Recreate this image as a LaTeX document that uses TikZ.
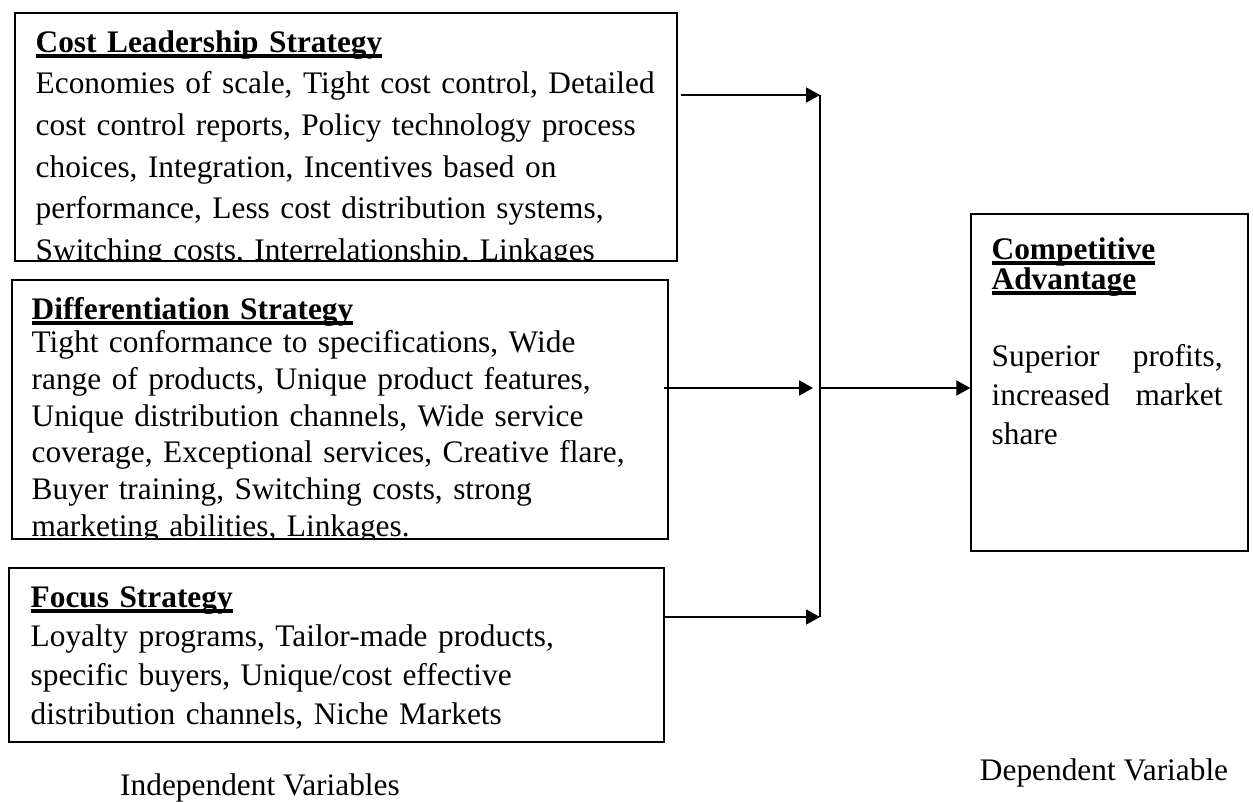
\documentclass[tikz,border=0pt]{standalone}
\usepackage{fontspec}
\setmainfont{Liberation Serif}
\usepackage{tikz}
\usetikzlibrary{arrows.meta,calc}

\newlength{\uheadwd}
\newcommand{\uhead}[1]{\settowidth{\uheadwd}{#1}\rlap{#1}\rule[-0.17em]{\uheadwd}{0.1em}}

\begin{document}
\begin{tikzpicture}[x=0.02cm, y=-0.02cm,
    box/.style={draw, line width=0.85pt, inner sep=0pt},
    boxtext/.style={anchor=base west, inner sep=0pt, align=left, text width=#1},
    arrow/.style={-{Triangle[length=0.28cm, width=0.3cm]}, line width=1.1pt},
    bus/.style={line width=0.75pt},
    caption/.style={anchor=base, inner sep=0pt, font=\fontsize{17.85}{20}\selectfont}
]
\useasboundingbox (0,0) rectangle (1253,801);

% Independent variables
\node[box, minimum width=13.24cm, minimum height=4.96cm] (cost) at (346,137) {};
\node[box, minimum width=13.12cm, minimum height=5.18cm] (diff) at (340,409.5) {};
\node[box, minimum width=13.1cm, minimum height=3.48cm] (focus) at (336.5,655) {};

% Dependent variable
\node[box, minimum width=5.54cm, minimum height=6.74cm] (adv) at (1109.5,382.5) {};

% Box texts, cut off at the box edges
\begin{scope}
  \clip (cost.north west) rectangle (cost.south east);
  \node[boxtext=12.8cm, font=\fontsize{17.85}{23.67}\selectfont] (costtext)
    at ([shift={(21,40)}]cost.north west)
    {\textbf{\uhead{Cost Leadership Strategy}}\\
     Economies of scale, Tight cost control, Detailed\\
     cost control reports, Policy technology process\\
     choices, Integration, Incentives based on\\
     performance, Less cost distribution systems,\\
     Switching costs, Interrelationship, Linkages};
\end{scope}

\begin{scope}
  \clip (diff.north west) rectangle (diff.south east);
  \node[boxtext=12.8cm, font=\fontsize{17.85}{20.94}\selectfont] (difftext)
    at ([shift={(20,40)}]diff.north west)
    {\textbf{\uhead{Differentiation Strategy}}\\[-0.07cm]
     Tight conformance to specifications, Wide\\
     range of products, Unique product features,\\
     Unique distribution channels, Wide service\\
     coverage, Exceptional services, Creative flare,\\
     Buyer training, Switching costs, strong\\
     marketing abilities, Linkages.};
\end{scope}

\begin{scope}
  \clip (focus.north west) rectangle (focus.south east);
  \node[boxtext=12.8cm, font=\fontsize{17.85}{22.2}\selectfont] (focustext)
    at ([shift={(22,40)}]focus.north west)
    {\textbf{\uhead{Focus Strategy}}\\
     Loyalty programs, Tailor-made products,\\
     specific buyers, Unique/cost effective\\
     distribution channels, Niche Markets};
\end{scope}

\node[boxtext=4.62cm, font=\fontsize{17.85}{22.2}\selectfont] (advtext)
  at ([shift={(21,46)}]adv.north west)
  {\textbf{\uhead{Competitive}}\\[-0.18cm]
   \textbf{\uhead{Advantage}}\\[0.76cm]
   Superior\hfill profits,\\
   increased\hfill market\\
   share};

% Connectors
\coordinate (bustop) at (820,95);
\coordinate (busmid) at (820,388);
\coordinate (busbot) at (820,617);

\draw[arrow] ($(cost.east |- bustop)+(3,0)$) -- (bustop);
\draw[arrow] ($(diff.east |- busmid)+(-5,0)$) -- ($(busmid)+(-7,0)$);
\draw[arrow] (focus.east |- busbot) -- (busbot);
\draw[bus] (bustop) -- (busbot);
\draw[arrow] (busmid) -- (adv.west |- busmid);

% Captions
\node[caption] (indep) at (260,795) {Independent Variables};
\node[caption] (dep) at (1104,780) {Dependent Variable};

\end{tikzpicture}
\end{document}
